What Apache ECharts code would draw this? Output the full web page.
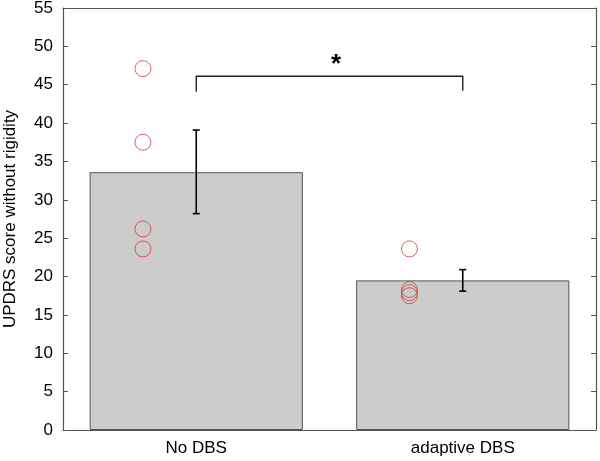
<!DOCTYPE html>
<html><head><meta charset="utf-8">
<script src="https://cdn.jsdelivr.net/npm/echarts@6/dist/echarts.min.js"></script>
<style>html,body{margin:0;padding:0;background:#fff}#c{width:600px;height:461px}</style>
</head><body><div id="c"></div>
<script>
var categories = ['No DBS', 'adaptive DBS'];
var barMeans = [33.6, 19.5];
var errLow = [28.2, 18.1];
var errHigh = [39.1, 20.9];
var noDbsPoints = [47.1, 37.5, 26.2, 23.6];
var adaptivePoints = [23.6, 18.3, 17.9, 17.5];
var yTicks = {min: 0, max: 55, interval: 5};
var bracket = {left: 44.1, top: 46.1, right: 44.2, starX: 0.525, star: 47.6, label: '*'};

var pointOffset = -0.2;
var scatterData = [];
noDbsPoints.forEach(function (v) { scatterData.push([0 + pointOffset, v]); });
adaptivePoints.forEach(function (v) { scatterData.push([1 + pointOffset, v]); });
var errData = barMeans.map(function (m, i) { return [i, errLow[i], errHigh[i]]; });

var font = 'Liberation Sans, Arial, Helvetica, sans-serif';
var axisColor = '#555';

var chart = echarts.init(document.getElementById('c'));
chart.setOption({
  animation: false,
  grid: {left: 63, right: 4, top: 8, bottom: 31, containLabel: false, outerBoundsMode: 'none'},
  xAxis: [
    {type: 'category', data: categories, boundaryGap: true, position: 'bottom',
     axisLine: {onZero: false, lineStyle: {color: axisColor, width: 1.2}},
     axisTick: {inside: true, alignWithLabel: true, length: 5, lineStyle: {color: axisColor}},
     axisLabel: {color: '#000', fontSize: 17, fontFamily: font, margin: 10},
     splitLine: {show: false}},
    {type: 'category', data: categories, boundaryGap: true, position: 'top',
     axisLine: {onZero: false, lineStyle: {color: axisColor, width: 1.2}},
     axisTick: {inside: true, alignWithLabel: true, length: 5, lineStyle: {color: axisColor}},
     axisLabel: {show: false}, splitLine: {show: false}},
    {type: 'value', min: -0.5, max: 1.5, show: false, axisLine: {onZero: false}}
  ],
  yAxis: [
    {type: 'value', min: yTicks.min, max: yTicks.max, interval: yTicks.interval, position: 'left',
     name: 'UPDRS score without rigidity', nameLocation: 'middle', nameGap: 44,
     nameTextStyle: {color: '#000', fontSize: 17, fontFamily: font},
     axisLine: {show: true, onZero: false, lineStyle: {color: axisColor, width: 1.2}},
     axisTick: {show: true, inside: true, length: 5, lineStyle: {color: axisColor}},
     axisLabel: {color: '#000', fontSize: 17, fontFamily: font, margin: 10},
     splitLine: {show: false}},
    {type: 'value', min: yTicks.min, max: yTicks.max, interval: yTicks.interval, position: 'right',
     axisLine: {show: true, onZero: false, lineStyle: {color: axisColor, width: 1.2}},
     axisTick: {show: true, inside: true, length: 5, lineStyle: {color: axisColor}},
     axisLabel: {show: false}, splitLine: {show: false}}
  ],
  series: [
    {type: 'bar', xAxisIndex: 0, yAxisIndex: 0, data: barMeans, barWidth: '80%',
     itemStyle: {color: '#cccccc', borderColor: '#555', borderWidth: 1}, z: 1},
    {type: 'scatter', xAxisIndex: 2, yAxisIndex: 0, data: scatterData,
     symbol: 'circle', symbolSize: 16,
     itemStyle: {color: 'rgba(0,0,0,0)', borderColor: '#d93a3a', borderWidth: 1}, z: 3},
    {type: 'custom', xAxisIndex: 2, yAxisIndex: 0, data: errData, z: 4,
     renderItem: function (params, api) {
       var x = api.value(0);
       var lo = api.coord([x, api.value(1)]);
       var hi = api.coord([x, api.value(2)]);
       var cw = 3.5;
       var st = {stroke: '#000', lineWidth: 1.6};
       return {type: 'group', children: [
         {type: 'line', shape: {x1: lo[0], y1: lo[1], x2: hi[0], y2: hi[1]}, style: st},
         {type: 'line', shape: {x1: lo[0] - cw, y1: lo[1], x2: lo[0] + cw, y2: lo[1]}, style: st},
         {type: 'line', shape: {x1: hi[0] - cw, y1: hi[1], x2: hi[0] + cw, y2: hi[1]}, style: st}
       ]};
     }},
    {type: 'custom', xAxisIndex: 2, yAxisIndex: 0, data: [[0, 1]], z: 4,
     renderItem: function (params, api) {
       var a = api.coord([0, bracket.left]);
       var b = api.coord([0, bracket.top]);
       var c = api.coord([1, bracket.top]);
       var d = api.coord([1, bracket.right]);
       var s = api.coord([bracket.starX, bracket.star]);
       return {type: 'group', children: [
         {type: 'polyline', shape: {points: [a, b, c, d]}, style: {stroke: '#222', lineWidth: 1.4, fill: null}},
         {type: 'text', x: s[0], y: s[1], style: {text: bracket.label, fill: '#000', font: 'bold 26px ' + font, align: 'center', verticalAlign: 'middle'}}
       ]};
     }}
  ]
});
</script></body></html>
